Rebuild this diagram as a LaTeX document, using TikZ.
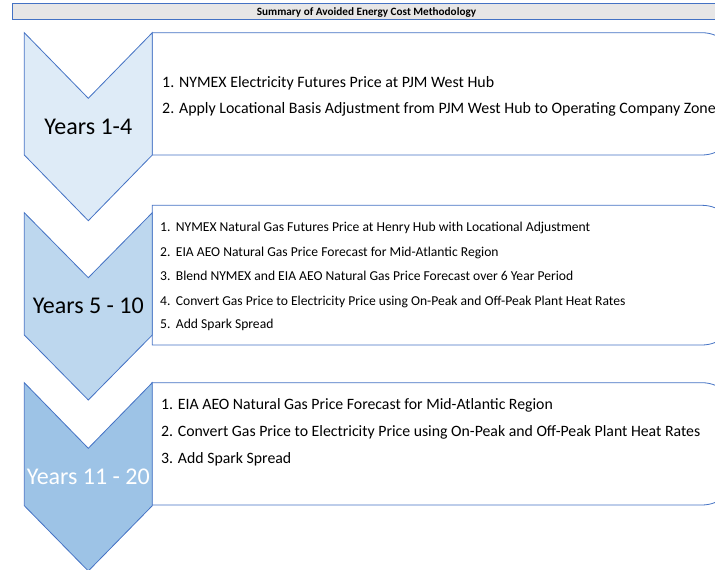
\documentclass[tikz,border=0pt]{standalone}
\usepackage{fontspec}
\setmainfont{Carlito}
\definecolor{edge}{HTML}{4472C4}
\definecolor{hdr}{HTML}{E7E6E6}
\definecolor{chA}{HTML}{DEEBF7}
\definecolor{chB}{HTML}{BDD7EE}
\definecolor{chC}{HTML}{9DC3E6}
\tikzset{
  chev/.style={draw=edge, line width=0.8pt, line join=miter},
  tbox/.style={draw=edge, line width=0.8pt, fill=white},
  years/.style={inner sep=0pt, anchor=base, font=\fontsize{24}{28}\selectfont},
  itemA/.style={inner sep=0pt, anchor=base west, font=\fontsize{15.9}{18}\selectfont},
  itemB/.style={inner sep=0pt, anchor=base west, font=\fontsize{13.6}{15}\selectfont},
  itemC/.style={inner sep=0pt, anchor=base west, font=\fontsize{15.8}{18}\selectfont},
}
\begin{document}
\begin{tikzpicture}[x=1pt,y=-1pt]
\useasboundingbox (0,0) rectangle (715,570);
% header
\draw[draw=edge, line width=1pt, fill=hdr] (12,3) rectangle (725,19.5);
\node[inner sep=0pt, anchor=base, font=\fontsize{11.2}{12}\selectfont\bfseries] (title) at (366.5,15.5) {Summary of Avoided Energy Cost Methodology};
% boxes (right corners rounded)
\draw[tbox] (152.3,32.7) -- (702,32.7) arc[start angle=-90, end angle=0, radius=35] -- (737,120) arc[start angle=0, end angle=90, radius=35] -- (152.3,155) -- cycle;
\draw[tbox] (152.3,205.3) -- (702,205.3) arc[start angle=-90, end angle=0, radius=35] -- (737,310) arc[start angle=0, end angle=90, radius=35] -- (152.3,345) -- cycle;
\draw[tbox] (151.7,382.7) -- (702,382.7) arc[start angle=-90, end angle=0, radius=35] -- (737,470) arc[start angle=0, end angle=90, radius=35] -- (151.7,505) -- cycle;
% chevrons
\draw[chev, fill=chA] (24.3,32.7) -- (88.3,98.3) -- (152.3,32.7) -- (152.3,155) -- (88.3,220.7) -- (24.3,155) -- cycle;
\draw[chev, fill=chB] (24.3,212.7) -- (88.3,277.7) -- (152.3,212.7) -- (152.3,335) -- (88.3,400) -- (24.3,335) -- cycle;
\draw[chev, fill=chC] (24.3,382.7) -- (88.3,448.3) -- (152.3,382.7) -- (152.3,505.7) -- (88.3,571) -- (24.3,505.7) -- cycle;
% years labels
\node[years] (y1) at (88.3,134) {Years 1-4};
\node[years] (y2) at (88.3,313.3) {Years 5 - 10};
\node[years, text=white] (y3) at (88.3,484.3) {Years 11 - 20};
% box 1
\node[itemA] (a1) at (162,87.3) {1. NYMEX Electricity Futures Price at PJM West Hub};
\node[itemA] (a2) at (162,113.3) {2. Apply Locational Basis Adjustment from PJM West Hub to Operating Company Zone};
% box 2
\node[itemB] (b1n) at (160,231.7) {1.};
\node[itemB] (b1) at (175.7,231.7) {NYMEX Natural Gas Futures Price at Henry Hub with Locational Adjustment};
\node[itemB] (b2n) at (160,256.7) {2.};
\node[itemB] (b2) at (175.7,256.7) {EIA AEO Natural Gas Price Forecast for Mid-Atlantic Region};
\node[itemB] (b3n) at (160,280) {3.};
\node[itemB] (b3) at (175.7,280) {Blend NYMEX and EIA AEO Natural Gas Price Forecast over 6 Year Period};
\node[itemB] (b4n) at (160,305) {4.};
\node[itemB] (b4) at (175.7,305) {Convert Gas Price to Electricity Price using On-Peak and Off-Peak Plant Heat Rates};
\node[itemB] (b5n) at (160,328.3) {5.};
\node[itemB] (b5) at (175.7,328.3) {Add Spark Spread};
% box 3
\node[itemC] (c1) at (161,409.3) {1. EIA AEO Natural Gas Price Forecast for Mid-Atlantic Region};
\node[itemC] (c2) at (161,436) {2. Convert Gas Price to Electricity Price using On-Peak and Off-Peak Plant Heat Rates};
\node[itemC] (c3) at (161,463.3) {3. Add Spark Spread};
\end{tikzpicture}
\end{document}
